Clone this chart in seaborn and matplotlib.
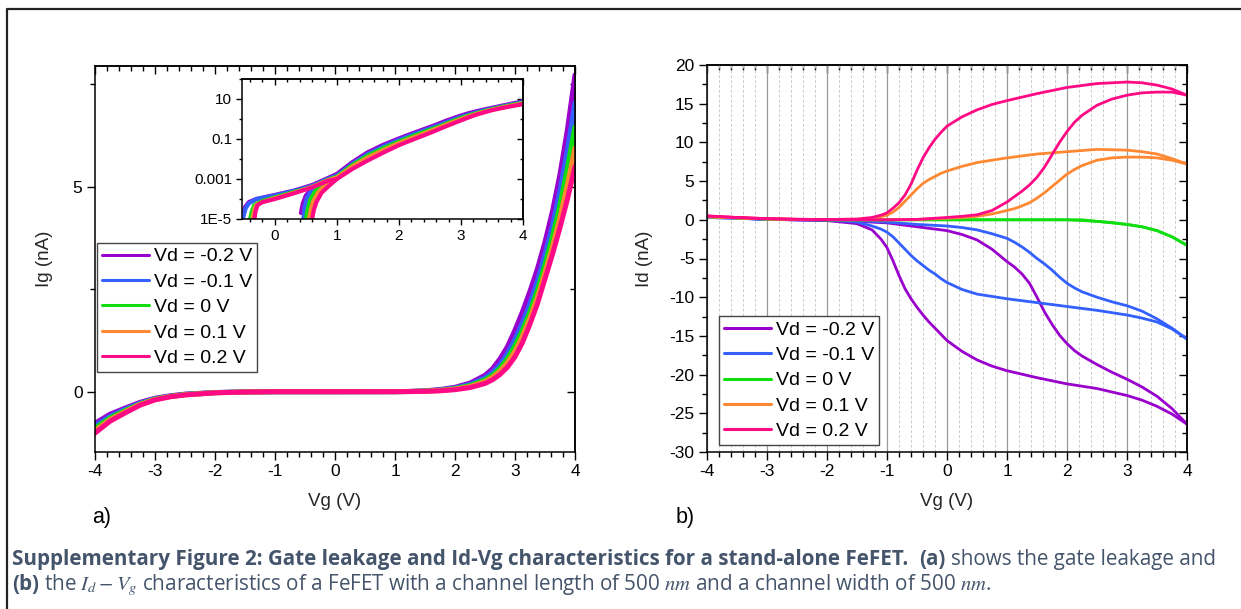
import numpy as np
import pandas as pd
import matplotlib
matplotlib.use("Agg")
import matplotlib.pyplot as plt
import seaborn as sns
from matplotlib.lines import Line2D
from matplotlib.ticker import FixedLocator, NullFormatter

# ---------------- data ----------------
labels = ["Vd = -0.2 V", "Vd = -0.1 V", "Vd = 0 V", "Vd = 0.1 V", "Vd = 0.2 V"]
colors = ["#9900CC", "#3360FF", "#11DD11", "#FF8833", "#FF0A85"]

# Panel a: gate leakage Ig (nA) vs Vg
ig_vg_neg = [-4.0, -3.75, -3.5, -3.25, -3.0, -2.75, -2.5, -2.0, -1.5, -1.0, 0.0, 0.5]
ig_neg = {
    "Vd = -0.2 V": [-0.77, -0.55, -0.40, -0.26, -0.16, -0.10, -0.06, -0.02, -0.005, 0.0, 0.0, 0.0005],
    "Vd = -0.1 V": [-0.83, -0.60, -0.43, -0.28, -0.17, -0.11, -0.065, -0.022, -0.006, 0.0, 0.0, 0.0004],
    "Vd = 0 V":    [-0.89, -0.64, -0.46, -0.30, -0.18, -0.115, -0.07, -0.024, -0.007, 0.0, 0.0, 0.0004],
    "Vd = 0.1 V":  [-0.95, -0.68, -0.49, -0.31, -0.19, -0.12, -0.075, -0.026, -0.007, 0.0, 0.0, 0.0003],
    "Vd = 0.2 V":  [-1.01, -0.72, -0.52, -0.33, -0.20, -0.125, -0.08, -0.028, -0.008, 0.0, 0.0, 0.0003],
}
ig_vg_pos = [1.0, 1.25, 1.5, 1.75, 2.0, 2.25, 2.5, 2.625, 2.75, 2.875, 3.0, 3.125, 3.25,
             3.375, 3.5, 3.625, 3.75, 3.875, 4.0]
ig_pos = {
    "Vd = -0.2 V": [0.0018, 0.007, 0.022, 0.052, 0.107, 0.21, 0.40, 0.56, 0.80, 1.10, 1.50, 1.95,
                    2.45, 3.00, 3.65, 4.40, 5.30, 6.40, 7.72],
    "Vd = -0.1 V": [0.0015, 0.0058, 0.018, 0.043, 0.090, 0.18, 0.34, 0.47, 0.66, 0.93, 1.28, 1.68,
                    2.15, 2.70, 3.35, 4.05, 4.90, 5.90, 7.04],
    "Vd = 0 V":    [0.0013, 0.005, 0.015, 0.035, 0.075, 0.15, 0.29, 0.40, 0.57, 0.81, 1.12, 1.50,
                    1.95, 2.48, 3.10, 3.78, 4.55, 5.45, 6.46],
    "Vd = 0.1 V":  [0.0012, 0.0042, 0.012, 0.028, 0.062, 0.125, 0.245, 0.35, 0.50, 0.71, 0.98, 1.35,
                    1.80, 2.30, 2.90, 3.53, 4.25, 5.05, 5.94],
    "Vd = 0.2 V":  [0.0010, 0.0032, 0.0085, 0.021, 0.049, 0.10, 0.20, 0.29, 0.42, 0.60, 0.85, 1.20,
                    1.65, 2.15, 2.75, 3.35, 4.00, 4.70, 5.49],
}
# Inset: low-Vg branches of |Ig| (log scale)
inset_a_vg = {
    "Vd = -0.2 V": [-0.52, -0.48, -0.42, -0.3, 0.0, 0.3, 0.6, 0.85],
    "Vd = -0.1 V": [-0.52, -0.47, -0.42, -0.3, 0.0, 0.3, 0.6, 0.85],
    "Vd = 0 V":    [-0.40, -0.37, -0.33, -0.2, 0.0, 0.3, 0.6, 0.85],
    "Vd = 0.1 V":  [-0.36, -0.33, -0.30, -0.2, 0.0, 0.3, 0.6, 0.85],
    "Vd = 0.2 V":  [-0.33, -0.31, -0.28, -0.2, 0.0, 0.3, 0.6, 0.85],
}
inset_a_ig = {
    "Vd = -0.2 V": [1e-5, 4e-5, 7e-5, 1.0e-4, 1.6e-4, 2.6e-4, 5e-4, 1.1e-3],
    "Vd = -0.1 V": [1e-5, 3.5e-5, 6e-5, 1.0e-4, 1.5e-4, 2.5e-4, 4.5e-4, 1.0e-3],
    "Vd = 0 V":    [1e-5, 2.5e-5, 5e-5, 8e-5, 1.2e-4, 2.2e-4, 4e-4, 9e-4],
    "Vd = 0.1 V":  [1e-5, 3e-5, 5e-5, 7e-5, 1.1e-4, 2e-4, 4e-4, 8.5e-4],
    "Vd = 0.2 V":  [1e-5, 2.5e-5, 5e-5, 7e-5, 1.0e-4, 1.9e-4, 3.8e-4, 8e-4],
}
inset_b_vg = {
    "Vd = -0.2 V": [0.42, 0.45, 0.50, 0.60, 0.75, 0.90],
    "Vd = -0.1 V": [0.46, 0.48, 0.52, 0.60, 0.75, 0.90],
    "Vd = 0 V":    [0.50, 0.53, 0.57, 0.65, 0.78, 0.92],
    "Vd = 0.1 V":  [0.55, 0.58, 0.62, 0.70, 0.82, 0.95],
    "Vd = 0.2 V":  [0.60, 0.63, 0.67, 0.75, 0.87, 1.00],
}
inset_b_ig = {
    "Vd = -0.2 V": [2e-5, 6e-5, 1.5e-4, 3.5e-4, 7e-4, 1.2e-3],
    "Vd = -0.1 V": [1e-5, 4e-5, 1.2e-4, 3e-4, 6.5e-4, 1.1e-3],
    "Vd = 0 V":    [1e-5, 3e-5, 9e-5, 2.5e-4, 5.5e-4, 1.0e-3],
    "Vd = 0.1 V":  [1e-5, 3e-5, 8e-5, 2.2e-4, 5e-4, 1.0e-3],
    "Vd = 0.2 V":  [1e-5, 3e-5, 7e-5, 2e-4, 4.5e-4, 1.0e-3],
}

# Panel b: Id (nA) vs Vg, two sweep branches per Vd
id_vg_fast = [-4.0, -3.5, -3.0, -2.5, -2.0, -1.5, -1.25, -1.1, -1.0, -0.9, -0.8, -0.7, -0.6,
              -0.5, -0.4, -0.3, -0.2, -0.1, 0.0, 0.25, 0.5, 0.75, 1.0, 1.5, 2.0, 2.5, 3.0,
              3.25, 3.5, 3.75, 4.0]
id_fast = {
    "Vd = -0.2 V": [0.4, 0.25, 0.05, 0.0, -0.1, -0.5, -1.3, -2.5, -3.6, -5.3, -7.2, -8.9, -10.2,
                    -11.3, -12.3, -13.2, -14.0, -14.8, -15.6, -17.0, -18.1, -18.9, -19.5, -20.4,
                    -21.2, -21.8, -22.7, -23.3, -24.1, -25.1, -26.4],
    "Vd = -0.1 V": [0.3, 0.2, 0.05, 0.0, 0.0, -0.3, -0.8, -1.2, -1.6, -2.2, -3.0, -3.8, -4.6,
                    -5.3, -5.9, -6.5, -7.0, -7.6, -8.1, -9.0, -9.6, -9.9, -10.2, -10.7,
                    -11.2, -11.7, -12.3, -12.7, -13.2, -14.1, -15.4],
    "Vd = 0 V":    [0.4, 0.25, 0.1, 0.03, 0.0, 0.0, 0.0, 0.0, 0.0, 0.0, 0.0, 0.0, 0.0,
                    0.0, 0.0, 0.0, 0.0, 0.0, 0.0, 0.0, 0.0, 0.0, 0.0, 0.0,
                    0.0, -0.2, -0.6, -0.9, -1.4, -2.2, -3.3],
    "Vd = 0.1 V":  [0.4, 0.25, 0.12, 0.05, 0.02, 0.05, 0.2, 0.4, 0.6, 1.0, 1.6, 2.4, 3.2,
                    4.0, 4.7, 5.2, 5.6, 6.0, 6.3, 6.9, 7.4, 7.7, 8.0, 8.5,
                    8.8, 9.1, 9.0, 8.8, 8.5, 7.9, 7.2],
    "Vd = 0.2 V":  [0.5, 0.3, 0.15, 0.07, 0.03, 0.1, 0.3, 0.6, 0.9, 1.5, 2.2, 3.2, 4.6,
                    6.4, 8.0, 9.3, 10.4, 11.3, 12.1, 13.3, 14.2, 14.9, 15.4, 16.3,
                    17.1, 17.6, 17.8, 17.7, 17.4, 16.9, 16.1],
}
id_vg_slow = [-4.0, -3.5, -3.0, -2.5, -2.0, -1.5, -1.0, -0.5, 0.0, 0.25, 0.5, 0.75, 1.0,
              1.125, 1.25, 1.375, 1.5, 1.625, 1.75, 1.875, 2.0, 2.125, 2.25, 2.5, 2.75,
              3.0, 3.25, 3.5, 3.75, 4.0]
id_slow = {
    "Vd = -0.2 V": [0.4, 0.25, 0.05, 0.0, -0.1, -0.2, -0.4, -0.9, -1.4, -1.9, -2.6, -3.8, -5.4,
                    -6.1, -7.0, -8.2, -10.0, -11.9, -13.5, -14.9, -16.0, -16.9, -17.6, -18.7,
                    -19.7, -20.6, -21.6, -22.8, -24.4, -26.4],
    "Vd = -0.1 V": [0.3, 0.2, 0.05, 0.0, 0.0, -0.1, -0.3, -0.6, -0.8, -1.0, -1.3, -1.8, -2.4,
                    -2.9, -3.5, -4.2, -5.0, -5.7, -6.5, -7.4, -8.2, -8.8, -9.3, -10.0,
                    -10.6, -11.1, -11.8, -12.8, -14.0, -15.4],
    "Vd = 0 V":    [0.4, 0.25, 0.1, 0.03, 0.0, 0.0, 0.0, 0.0, 0.0, 0.0, 0.0, 0.0, 0.0,
                    0.0, 0.0, 0.0, 0.0, 0.0, 0.0, 0.0, 0.0, 0.0, 0.0, -0.2,
                    -0.35, -0.6, -0.9, -1.4, -2.2, -3.3],
    "Vd = 0.1 V":  [0.4, 0.25, 0.12, 0.05, 0.02, 0.0, 0.0, 0.05, 0.2, 0.3, 0.45, 0.75, 1.2,
                    1.45, 1.8, 2.2, 2.8, 3.5, 4.3, 5.1, 5.9, 6.5, 7.0, 7.7,
                    8.0, 8.1, 8.1, 8.0, 7.7, 7.2],
    "Vd = 0.2 V":  [0.5, 0.3, 0.15, 0.07, 0.03, 0.0, 0.0, 0.05, 0.3, 0.45, 0.65, 1.2, 2.3,
                    3.0, 3.7, 4.5, 5.5, 6.8, 8.4, 10.0, 11.4, 12.6, 13.5, 14.8,
                    15.6, 16.1, 16.4, 16.5, 16.5, 16.1],
}

caption1 = [("Supplementary Figure 2: Gate leakage and Id-Vg characteristics for a stand-alone FeFET.", "bold"),
            ("(a)", "bold"), ("shows the gate leakage and", "normal")]
caption2 = [("(b)", "bold"),
            ("the $I_d - V_g$ characteristics of a FeFET with a channel length of 500 $nm$ and a channel width of 500 $nm$.", "normal")]

# ---------------- style ----------------
sns.set_theme(style="ticks")
plt.rcParams['font.family'] = ['Liberation Sans', 'DejaVu Sans']
plt.rcParams['mathtext.fontset'] = 'stix'
plt.rcParams['axes.edgecolor'] = 'black'
plt.rcParams['axes.linewidth'] = 1.1
plt.rcParams['xtick.color'] = 'black'
plt.rcParams['ytick.color'] = 'black'
plt.rcParams['text.color'] = 'black'

W, H = 1241, 609
fig = plt.figure(figsize=(W / 100, H / 100), dpi=100)
fig.patch.set_facecolor('white')

axa = fig.add_axes([95 / W, 1 - 452 / H, 480 / W, 386 / H])
axb = fig.add_axes([707 / W, 1 - 452 / H, 480 / W, 387 / H])
ins = fig.add_axes([242 / W, 1 - 219 / H, 281 / W, 140 / H])

TICK = 12.5
LABEL = 13.5
LEG = 14.0


def style_axis(ax, xmaj, xmin, ymaj, ymin, size, lmaj=6, lmin=3.5):
    ax.tick_params(which='both', direction='out', top=False, right=False, labelsize=size, pad=3)
    ax.tick_params(which='major', length=lmaj, width=1.0)
    ax.tick_params(which='minor', length=lmin, width=1.0)
    ax.xaxis.set_major_locator(FixedLocator(xmaj))
    ax.xaxis.set_minor_locator(FixedLocator(xmin))
    ax.yaxis.set_major_locator(FixedLocator(ymaj))
    ax.yaxis.set_minor_locator(FixedLocator(ymin))
    ax.yaxis.set_minor_formatter(NullFormatter())
    top = ax.secondary_xaxis('top')
    top.xaxis.set_major_locator(FixedLocator(xmaj))
    top.xaxis.set_minor_locator(FixedLocator(xmin))
    top.tick_params(which='both', direction='in', labeltop=False)
    top.tick_params(which='major', length=lmaj, width=1.0)
    top.tick_params(which='minor', length=lmin, width=1.0)
    right = ax.secondary_yaxis('right')
    right.yaxis.set_major_locator(FixedLocator(ymaj))
    right.yaxis.set_minor_locator(FixedLocator(ymin))
    right.yaxis.set_minor_formatter(NullFormatter())
    right.tick_params(which='both', direction='in', labelright=False)
    right.tick_params(which='major', length=lmaj, width=1.0)
    right.tick_params(which='minor', length=lmin, width=1.0)
    for s in ax.spines.values():
        s.set_visible(True)
        s.set_color('black')
        s.set_linewidth(1.1)


# ---------------- panel a ----------------
for lab, col in zip(labels, colors):
    df = pd.DataFrame({"Vg": ig_vg_neg + ig_vg_pos, "Ig": ig_neg[lab] + ig_pos[lab]})
    sns.lineplot(data=df, x="Vg", y="Ig", ax=axa, color=col, lw=3.6, sort=False,
                 estimator=None, legend=False)
axa.set_xlim(-4, 4)
axa.set_ylim(-1.47, 7.94)
style_axis(axa, list(range(-4, 5)), list(np.arange(-4, 4.01, 0.2)), [0, 5], [2.5, 7.5], TICK)
axa.set_xticklabels([str(v) for v in range(-4, 5)])
axa.set_xlabel("Vg (V)", fontsize=LABEL)
axa.set_ylabel("Ig (nA)", fontsize=LABEL)
axa.xaxis.set_label_coords(0.5, -0.105)
axa.yaxis.set_label_coords(-0.087, 0.5)

# inset
for lab, col in zip(labels, colors):
    d1 = pd.DataFrame({"Vg": inset_a_vg[lab] + ig_vg_pos, "Ig": inset_a_ig[lab] + ig_pos[lab]})
    sns.lineplot(data=d1, x="Vg", y="Ig", ax=ins, color=col, lw=3.0, sort=False,
                 estimator=None, legend=False)
    d2 = pd.DataFrame({"Vg": inset_b_vg[lab], "Ig": inset_b_ig[lab]})
    sns.lineplot(data=d2, x="Vg", y="Ig", ax=ins, color=col, lw=3.0, sort=False,
                 estimator=None, legend=False)
ins.set_yscale('log')
ins.set_xlim(-0.53, 4)
ins.set_ylim(1e-5, 100)
style_axis(ins, [0, 1, 2, 3, 4], list(np.arange(-0.4, 4.01, 0.2)),
           [1e-5, 1e-3, 1e-1, 10], [1e-4, 1e-2, 1, 100], 11, lmaj=4, lmin=2.5)
ins.set_yticklabels(["1E-5", "0.001", "0.1", "10"])
ins.set_xticklabels(["0", "1", "2", "3", "4"])
ins.set_xlabel("")
ins.set_ylabel("")
ins.set_facecolor('white')

# ---------------- panel b ----------------
for lab, col in zip(labels, colors):
    d1 = pd.DataFrame({"Vg": id_vg_fast, "Id": id_fast[lab]})
    sns.lineplot(data=d1, x="Vg", y="Id", ax=axb, color=col, lw=2.0, sort=False,
                 estimator=None, legend=False)
    d2 = pd.DataFrame({"Vg": id_vg_slow, "Id": id_slow[lab]})
    sns.lineplot(data=d2, x="Vg", y="Id", ax=axb, color=col, lw=2.0, sort=False,
                 estimator=None, legend=False)
axb.set_xlim(-4, 4)
axb.set_ylim(-30, 20)
style_axis(axb, list(range(-4, 5)), list(np.arange(-4, 4.01, 0.2)),
           list(range(-30, 21, 5)), list(np.arange(-27.5, 20, 5)), TICK)
axb.set_xticklabels([str(v) for v in range(-4, 5)])
axb.set_yticklabels([str(v) for v in range(-30, 21, 5)])
axb.grid(True, axis='x', which='major', color='#999999', lw=0.9, ls='-')
axb.grid(True, axis='x', which='minor', color='#cccccc', lw=0.7, ls=(0, (3, 2)))
axb.set_axisbelow(True)
axb.set_xlabel("Vg (V)", fontsize=LABEL)
axb.set_ylabel("Id (nA)", fontsize=LABEL)
axb.xaxis.set_label_coords(0.5, -0.105)
axb.yaxis.set_label_coords(-0.112, 0.5)

# legends
handles = [Line2D([0], [0], color=c, lw=2.2) for c in colors]
for ax, anchor, loc in [(axa, (97 / W, 1 - 243 / H), 'upper left'),
                        (axb, (719 / W, 1 - 445 / H), 'lower left')]:
    leg = ax.legend(handles, labels, loc=loc, bbox_to_anchor=anchor,
                    bbox_transform=fig.transFigure, fontsize=LEG, frameon=True,
                    fancybox=False, borderpad=0.25, labelspacing=0.4, handlelength=2.4,
                    handletextpad=0.3, borderaxespad=0)
    leg.get_frame().set_edgecolor('#444444')
    leg.get_frame().set_linewidth(1.0)
    leg.get_frame().set_alpha(1)

# panel letters
fig.text(92 / W, 1 - 517 / H, "a)", fontsize=15.5, va='center', ha='left')
fig.text(676 / W, 1 - 517 / H, "b)", fontsize=15.5, va='center', ha='left')

# outer frame
fig.add_artist(Line2D([7 / W, 7 / W, 1.0], [0.0, 1 - 9 / H, 1 - 9 / H],
                      transform=fig.transFigure, color='#222222', lw=1.6))

# caption
cap_color = '#44546A'
cap_family = ['Open Sans', 'DejaVu Sans']
renderer = fig.canvas.get_renderer()


def measure(pieces, size):
    total = 0
    objs = []
    for txt, wt in pieces:
        t = fig.text(0, 0, txt, fontsize=size, fontweight=wt, family=cap_family)
        total += t.get_window_extent(renderer).width
        objs.append(t)
    sp = fig.text(0, 0, "a a", fontsize=size, family=cap_family)
    sp2 = fig.text(0, 0, "aa", fontsize=size, family=cap_family)
    space = sp.get_window_extent(renderer).width - sp2.get_window_extent(renderer).width
    for o in objs + [sp, sp2]:
        o.remove()
    return total, space


def draw_line(pieces, x0, ybase, size, gaps):
    x = x0
    for i, (txt, wt) in enumerate(pieces):
        t = fig.text(x / W, 1 - ybase / H, txt, fontsize=size, fontweight=wt,
                     family=cap_family, color=cap_color, va='baseline', ha='left')
        x += t.get_window_extent(renderer).width + gaps[i]


size0 = 13.0
tot, sp = measure(caption1, size0)
target = 1213 - 12
size = size0 * target / (tot + sp * 3)
tot, sp = measure(caption1, size)
draw_line(caption1, 12, 565, size, [sp * 2, sp, 0])
draw_line(caption2, 12, 590, size, [sp, 0])

fig.savefig("out.png", dpi=100, facecolor='white')
